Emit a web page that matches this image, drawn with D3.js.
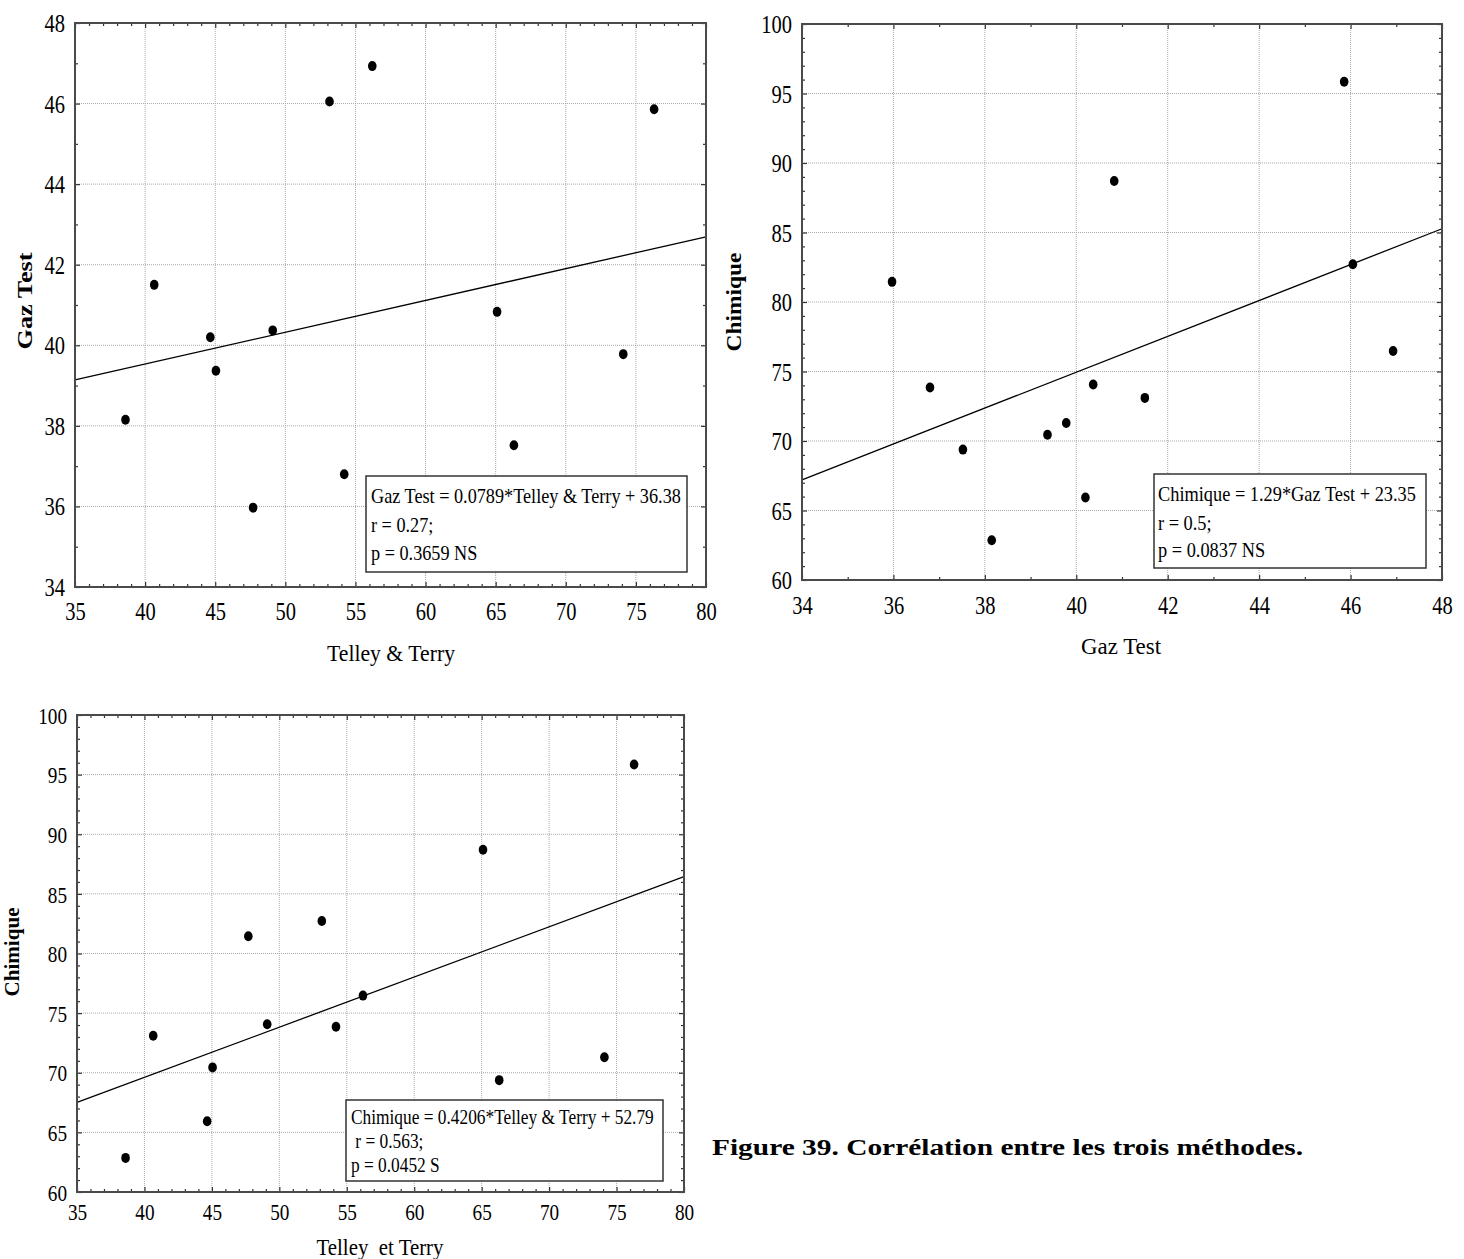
<!DOCTYPE html>
<html><head><meta charset="utf-8">
<script src="https://d3js.org/d3.v7.min.js"></script>
<style>
html,body{margin:0;padding:0;background:#fff;}
svg{display:block;}
text{font-family:"Liberation Serif","Times New Roman",serif !important;fill:#000;}
</style></head>
<body>
<svg id="chart" width="1464" height="1259"></svg>
<script>
// ---- data (one value per sample, same order in all arrays) ----
const telley   = [38.6, 40.65, 44.65, 45.05, 47.7, 49.1, 53.15, 54.2, 56.2, 65.1, 66.3, 74.1, 76.3];
const gaz      = [38.15, 41.5, 40.2, 39.37, 35.97, 40.37, 46.05, 36.8, 46.93, 40.83, 37.52, 39.78, 45.86];
const chimique = [62.86, 73.1, 65.93, 70.45, 81.45, 74.07, 82.72, 73.85, 76.47, 88.7, 69.38, 71.3, 95.85];

// regression coefficients as printed
const slopes     = [0.0789, 1.29, 0.4206];
const intercepts = [36.38, 23.35, 52.79];

// tick values
const ticksTelley   = [35, 40, 45, 50, 55, 60, 65, 70, 75, 80];
const ticksGazY     = [34, 36, 38, 40, 42, 44, 46, 48];
const ticksGazX     = [34, 36, 38, 40, 42, 44, 46, 48];
const ticksChimique = [60, 65, 70, 75, 80, 85, 90, 95, 100];

// texts
const legend1 = ["Gaz Test = 0.0789*Telley & Terry + 36.38", "r = 0.27;", "p = 0.3659 NS"];
const legend2 = ["Chimique = 1.29*Gaz Test + 23.35", "r = 0.5;", "p = 0.0837 NS"];
const legend3 = ["Chimique = 0.4206*Telley & Terry + 52.79", " r = 0.563;", "p = 0.0452 S"];
const caption = "Figure 39. Corrélation entre les trois méthodes.";

const svg = d3.select("#chart");

function range1(a, b) { const r = []; for (let v = a; v <= b + 1e-9; v += 1) r.push(v); return r; }

function drawPanel(cfg) {
  const g = svg.append("g");
  const x = d3.scaleLinear().domain(cfg.xDom).range([cfg.left, cfg.right]);
  const y = d3.scaleLinear().domain(cfg.yDom).range([cfg.bottom, cfg.top]);
  const W = cfg.right - cfg.left, H = cfg.bottom - cfg.top;

  // grid
  const gx = cfg.xTicks.filter(v => v > cfg.xDom[0] && v < cfg.xDom[1]);
  const gy = cfg.yTicks.filter(v => v > cfg.yDom[0] && v < cfg.yDom[1]);
  g.append("g").selectAll("line").data(gx).join("line")
    .attr("x1", d => x(d)).attr("x2", d => x(d))
    .attr("y1", cfg.top).attr("y2", cfg.bottom)
    .attr("stroke", "#a9a9a9").attr("stroke-width", 1).attr("stroke-dasharray", "1,1");
  g.append("g").selectAll("line").data(gy).join("line")
    .attr("y1", d => y(d)).attr("y2", d => y(d))
    .attr("x1", cfg.left).attr("x2", cfg.right)
    .attr("stroke", "#a9a9a9").attr("stroke-width", 1).attr("stroke-dasharray", "1,1");

  // regression line
  const line = d3.line().x(d => x(d)).y(d => y(cfg.slope * d + cfg.intercept));
  g.append("path").datum(cfg.xDom).attr("d", line)
    .attr("fill", "none").attr("stroke", "#000").attr("stroke-width", 1.3);

  // points
  g.append("g").selectAll("ellipse").data(cfg.xs.map((v, i) => [v, cfg.ys[i]])).join("ellipse")
    .attr("cx", d => x(d[0])).attr("cy", d => y(d[1]))
    .attr("rx", 4.3).attr("ry", 5).attr("fill", "#000");

  // tick marks (inward, all sides)
  const minorX = range1(cfg.xDom[0], cfg.xDom[1]).filter(v => !cfg.xTicks.includes(v));
  const minorY = range1(cfg.yDom[0], cfg.yDom[1]).filter(v => !cfg.yTicks.includes(v));
  function tickAxis(axisFn, scale, vals, size, transform) {
    const a = g.append("g").attr("transform", transform)
      .call(axisFn(scale).tickValues(vals).tickSizeInner(size).tickSizeOuter(0).tickFormat(""));
    a.select(".domain").remove();
    a.selectAll("line").attr("stroke", "#333").attr("stroke-width", 1.2);
    return a;
  }
  tickAxis(d3.axisBottom, x, minorX, -3, `translate(0,${cfg.bottom})`);
  tickAxis(d3.axisBottom, x, cfg.xTicks, -5, `translate(0,${cfg.bottom})`);
  tickAxis(d3.axisTop, x, minorX, -3, `translate(0,${cfg.top})`);
  tickAxis(d3.axisTop, x, cfg.xTicks, -5, `translate(0,${cfg.top})`);
  tickAxis(d3.axisLeft, y, minorY, -3, `translate(${cfg.left},0)`);
  tickAxis(d3.axisLeft, y, cfg.yTicks, -5, `translate(${cfg.left},0)`);
  tickAxis(d3.axisRight, y, minorY, -3, `translate(${cfg.right},0)`);
  tickAxis(d3.axisRight, y, cfg.yTicks, -5, `translate(${cfg.right},0)`);

  // tick labels
  const sx = cfg.labelScale;
  const bx = g.append("g").attr("transform", `translate(0,${cfg.bottom})`)
    .call(d3.axisBottom(x).tickValues(cfg.xTicks).tickSize(0).tickFormat(d3.format("d")));
  bx.attr("font-size", null).attr("font-family", null);
  bx.select(".domain").remove();
  bx.selectAll("text").attr("y", cfg.xLabelOff).attr("dy", null)
    .style("font-size", cfg.labelSize + "px")
    .attr("transform", `scale(${sx},1)`);
  const ly = g.append("g").attr("transform", `translate(${cfg.left},0)`)
    .call(d3.axisLeft(y).tickValues(cfg.yTicks).tickSize(0).tickFormat(d3.format("d")));
  ly.attr("font-size", null).attr("font-family", null);
  ly.select(".domain").remove();
  ly.selectAll("text").attr("x", -10 / sx).attr("dy", "0.34em")
    .style("font-size", cfg.labelSize + "px")
    .attr("transform", `scale(${sx},1)`);

  // frame
  g.append("rect").attr("x", cfg.left).attr("y", cfg.top).attr("width", W).attr("height", H)
    .attr("fill", "none").attr("stroke", "#4a4a4a").attr("stroke-width", 2);

  // axis titles
  g.append("text").attr("x", cfg.xTitle[0]).attr("y", cfg.xTitle[1])
    .attr("text-anchor", "middle").style("font-size", cfg.titleSize + "px")
    .style("white-space", "pre")
    .attr("textLength", cfg.xTitle[2]).attr("lengthAdjust", "spacingAndGlyphs")
    .text(cfg.xLabel);
  g.append("text")
    .attr("transform", `translate(${cfg.yTitle[0]},${cfg.yTitle[1]}) rotate(-90)`)
    .attr("text-anchor", "middle").style("font-size", cfg.yTitleSize + "px").attr("font-weight", "bold")
    .attr("textLength", cfg.yTitle[2]).attr("lengthAdjust", "spacingAndGlyphs")
    .text(cfg.yLabel);

  // legend box
  const L = cfg.legend;
  g.append("rect").attr("x", L.box[0]).attr("y", L.box[1])
    .attr("width", L.box[2] - L.box[0]).attr("height", L.box[3] - L.box[1])
    .attr("fill", "#fff").attr("stroke", "#333").attr("stroke-width", 1.5);
  const texts = L.lines.map((s, i) => g.append("text")
    .attr("x", 0).attr("y", 0)
    .attr("transform", `translate(${L.textX},${L.baselines[i]})`)
    .style("font-size", L.size + "px").style("white-space", "pre").text(s));
  const nat0 = texts[0].node().getComputedTextLength();
  const k = L.width / nat0;
  texts.forEach((t, i) => t.attr("transform", `translate(${L.textX},${L.baselines[i]}) scale(${k},1)`));
}

drawPanel({
  xs: telley, ys: gaz, slope: slopes[0], intercept: intercepts[0],
  xDom: [35, 80], yDom: [34, 48], xTicks: ticksTelley, yTicks: ticksGazY,
  left: 75, right: 706, top: 23, bottom: 587,
  labelSize: 25, labelScale: 0.82, xLabelOff: 33,
  xLabel: "Telley & Terry", xTitle: [391, 661, 128], titleSize: 24,
  yLabel: "Gaz Test", yTitle: [32, 301, 97], yTitleSize: 22,
  legend: { box: [366, 476, 687, 572], textX: 371, baselines: [503, 532, 560], size: 22, width: 310, lines: legend1 }
});

drawPanel({
  xs: gaz, ys: chimique, slope: slopes[1], intercept: intercepts[1],
  xDom: [34, 48], yDom: [60, 100], xTicks: ticksGazX, yTicks: ticksChimique,
  left: 802, right: 1442, top: 24, bottom: 580,
  labelSize: 25, labelScale: 0.82, xLabelOff: 34,
  xLabel: "Gaz Test", xTitle: [1121, 654, 80], titleSize: 24,
  yLabel: "Chimique", yTitle: [741, 302, 99], yTitleSize: 21,
  legend: { box: [1154, 474, 1426, 568], textX: 1158, baselines: [501, 530, 557], size: 22, width: 258, lines: legend2 }
});

drawPanel({
  xs: telley, ys: chimique, slope: slopes[2], intercept: intercepts[2],
  xDom: [35, 80], yDom: [60, 100], xTicks: ticksTelley, yTicks: ticksChimique,
  left: 77, right: 684, top: 715, bottom: 1192,
  labelSize: 24, labelScale: 0.8, xLabelOff: 28,
  xLabel: "Telley  et Terry", xTitle: [380, 1255, 127], titleSize: 23,
  yLabel: "Chimique", yTitle: [19, 952, 89], yTitleSize: 20,
  legend: { box: [346, 1100, 663, 1181], textX: 351, baselines: [1124, 1148, 1172], size: 22, width: 303, lines: legend3 }
});

// caption
svg.append("text").attr("x", 712).attr("y", 1155)
  .style("font-size", "24px").attr("font-weight", "bold")
  .attr("textLength", 591).attr("lengthAdjust", "spacingAndGlyphs")
  .text(caption);
</script>
</body></html>
